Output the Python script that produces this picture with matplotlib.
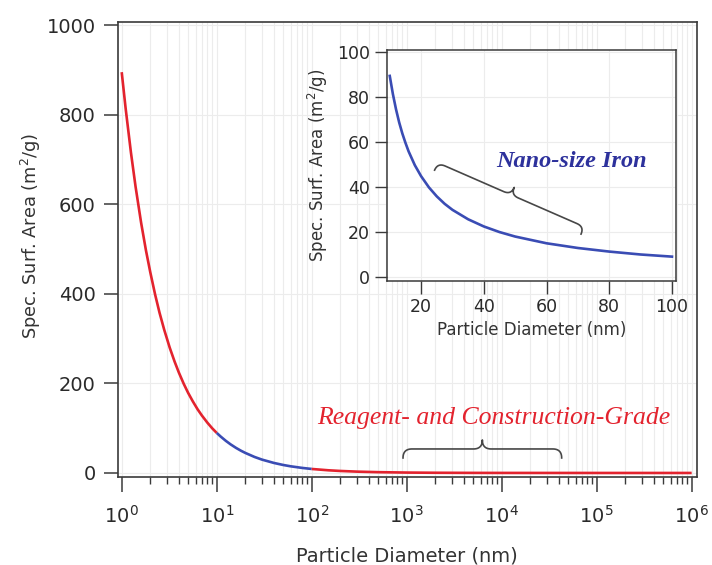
import numpy as np
import matplotlib
matplotlib.use("Agg")
import matplotlib.pyplot as plt
from matplotlib.ticker import (FixedLocator, NullFormatter, LogFormatterSciNotation)
from matplotlib.lines import Line2D

# ---------------- data ----------------
diam_nm = [1, 1.1, 1.25, 1.4, 1.6, 1.8, 2, 2.25, 2.5, 2.8, 3.2, 3.6, 4, 4.5, 5,
           5.6, 6.3, 7, 8, 9, 10, 11, 12.5, 14, 16, 18, 20, 25, 30, 40, 50, 60,
           80, 100, 150, 200, 300, 500, 1000, 2000, 5000, 1e4, 1e5, 1e6]
ssa_m2g = [895, 814, 716, 639, 559, 497, 448, 398, 358, 320, 280, 249, 224, 199,
           179, 160, 142, 128, 112, 99.4, 89.5, 81.4, 71.6, 63.9, 55.9, 49.7,
           44.8, 35.8, 29.8, 22.4, 17.9, 14.9, 11.2, 8.95, 5.97, 4.48, 2.98,
           1.79, 0.90, 0.45, 0.18, 0.09, 0.009, 0.0009]
nano_range_nm = (10, 100)

inset_diam_nm = [10, 11, 12, 13, 14, 15, 16, 18, 20, 22.5, 25, 27.5, 30, 35, 40,
                 45, 50, 60, 70, 80, 90, 100]
inset_ssa_m2g = [89.5, 81.4, 74.6, 68.8, 63.9, 59.7, 55.9, 49.7, 44.8, 39.8,
                 35.8, 32.5, 29.8, 25.6, 22.4, 19.9, 17.9, 14.9, 12.8, 11.2,
                 9.9, 8.95]

main_xticks = [1, 10, 100, 1e3, 1e4, 1e5, 1e6]
main_yticks = [0, 200, 400, 600, 800, 1000]
inset_xticks = [20, 40, 60, 80, 100]
inset_yticks = [0, 20, 40, 60, 80, 100]

reagent_label = "Reagent- and Construction-Grade"
nano_label = "Nano-size Iron"
reagent_label_pos = (10**3.92, 123)
nano_label_pos = (68.1, 51.2)
reagent_brace = ((915, 33.5), (42800, 33.5))
nano_brace = ((24.3, 47.5), (71.0, 19.0))

RED = "#e3232e"
BLUE = "#3a4cb4"
DARK_BLUE = "#2d319c"
FRAME = "#3a3a3a"
TXT = "#2a2a2a"
GRID = "#ececec"

plt.rcParams['font.family'] = ['DejaVu Sans']

fig = plt.figure(figsize=(7.12, 5.65), dpi=100)
ax = fig.add_axes([118 / 712, 1 - 477 / 565, 578.7 / 712, 455 / 565])

d = np.array(diam_nm)
s = np.array(ssa_m2g)
lo, hi = nano_range_nm
m1 = d <= lo
m2 = (d >= lo) & (d <= hi)
m3 = d >= hi
for m, c in ((m1, RED), (m2, BLUE), (m3, RED)):
    ax.plot(d[m], s[m], color=c, lw=1.9, zorder=3, solid_capstyle='butt')

ax.set_xscale('log')
ax.set_xlim(10**-0.039, 10**6.053)
ax.set_ylim(-9, 1007)
ax.xaxis.set_major_locator(FixedLocator(main_xticks))
ax.xaxis.set_major_formatter(LogFormatterSciNotation())
minor = [m * 10**e for e in range(0, 6) for m in range(2, 10)]
ax.xaxis.set_minor_locator(FixedLocator(minor))
ax.xaxis.set_minor_formatter(NullFormatter())
ax.yaxis.set_major_locator(FixedLocator(main_yticks))

ax.grid(True, which='both', axis='x', color=GRID, lw=0.8, zorder=0)
ax.grid(True, which='major', axis='y', color=GRID, lw=0.8, zorder=0)
ax.set_axisbelow(True)

for sp in ax.spines.values():
    sp.set_color(FRAME)
    sp.set_linewidth(1.2)
ax.tick_params(axis='y', which='major', direction='out', length=10, width=1.1,
               color=FRAME, labelsize=14, labelcolor=TXT, pad=6)
ax.tick_params(axis='x', which='major', direction='out', length=11, width=1.1,
               color=FRAME, labelsize=14, labelcolor=TXT, pad=9)
ax.tick_params(axis='x', which='minor', direction='out', length=5, width=1.0,
               color=FRAME)
ax.set_xlabel("Particle Diameter (nm)", fontsize=14, color='#333333')
ax.set_ylabel("Spec. Surf. Area (m$^2$/g)", fontsize=12.8, color='#333333')
ax.xaxis.set_label_coords(0.5, -0.152)
ax.yaxis.set_label_coords(-0.13, 0.53)

ax.text(*reagent_label_pos, reagent_label, color=RED, fontsize=18.5, style='italic',
        family='Liberation Serif', ha='center', va='center', zorder=5)

# ---------------- inset ----------------
axi = fig.add_axes([0.543, 0.5027, 0.4065, 0.4094])
axi.set_facecolor('white')
axi.plot(inset_diam_nm, inset_ssa_m2g, color=BLUE, lw=1.9, zorder=3)
axi.set_xlim(9, 101.3)
axi.set_ylim(-1.9, 101.2)
axi.xaxis.set_major_locator(FixedLocator(inset_xticks))
axi.yaxis.set_major_locator(FixedLocator(inset_yticks))
axi.grid(True, color=GRID, lw=0.8, zorder=0)
axi.set_axisbelow(True)
for sp in axi.spines.values():
    sp.set_color(FRAME)
    sp.set_linewidth(1.1)
axi.tick_params(direction='out', length=9, width=1.0, color=FRAME,
                labelsize=12.5, labelcolor=TXT, pad=3)
axi.set_xlabel("Particle Diameter (nm)", fontsize=12, color='#333333', labelpad=4)
axi.set_ylabel("Spec. Surf. Area (m$^2$/g)", fontsize=12, color='#333333', labelpad=5)
axi.text(*nano_label_pos, nano_label, color=DARK_BLUE, fontsize=17.5, style='italic',
         weight='bold', family='Liberation Serif', ha='center', va='center', zorder=5)


def _qbez(p0, c, p1, n=30):
    t = np.linspace(0, 1, n)[:, None]
    return (1 - t) ** 2 * np.array(p0) + 2 * (1 - t) * t * np.array(c) + t ** 2 * np.array(p1)


def draw_brace(a_ax, p1, p2, height_px, r_px=9, color="#474747", lw=1.2):
    a = a_ax.transData.transform(p1)
    b = a_ax.transData.transform(p2)
    v = b - a
    L = np.hypot(*v)
    u = v / L
    nvec = np.array([-u[1], u[0]])
    h = height_px
    half = np.vstack([
        _qbez((0, 0), (0, h / 2), (r_px, h / 2)),
        _qbez((r_px, h / 2), (L / 2 - r_px, h / 2), (L / 2 - r_px, h / 2), n=2),
        _qbez((L / 2 - r_px, h / 2), (L / 2, h / 2), (L / 2, h)),
    ])
    other = half[::-1].copy()
    other[:, 0] = L - other[:, 0]
    local = np.vstack([half, other])
    pts = a + np.outer(local[:, 0], u) + np.outer(local[:, 1], nvec)
    fpts = fig.transFigure.inverted().transform(pts)
    fig.add_artist(Line2D(fpts[:, 0], fpts[:, 1], color=color, lw=lw,
                          transform=fig.transFigure, zorder=10,
                          solid_joinstyle='round'))


draw_brace(ax, reagent_brace[0], reagent_brace[1], 18, r_px=9)
draw_brace(axi, nano_brace[0], nano_brace[1], 16, r_px=8)

fig.savefig("out.png", dpi=100)
